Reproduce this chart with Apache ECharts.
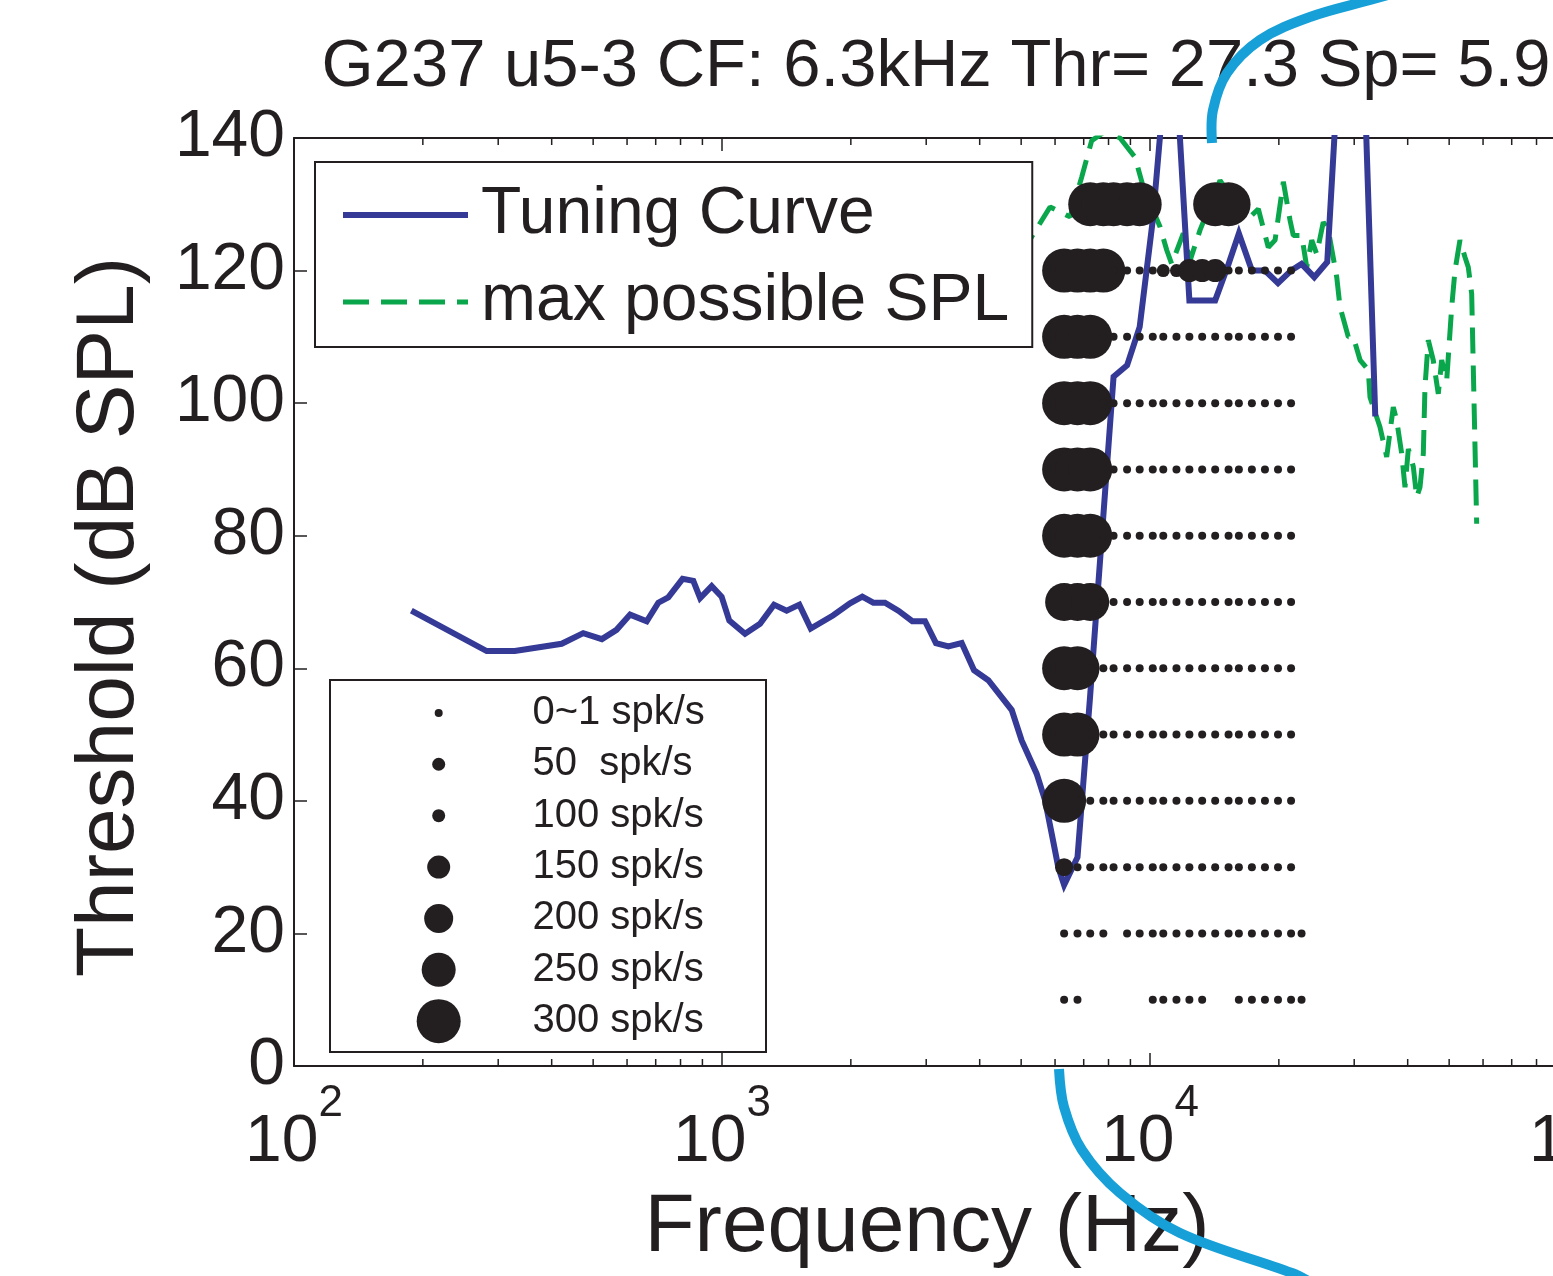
<!DOCTYPE html>
<html>
<head>
<meta charset="utf-8">
<script src="https://cdn.jsdelivr.net/npm/echarts@6/dist/echarts.min.js"></script>
<style>
  html, body { margin: 0; padding: 0; background: #ffffff; }
  #chart { width: 1553px; height: 1276px; }
</style>
</head>
<body>
<div id="chart"></div>
<script>
// ---- Tuning curve: threshold (dB SPL) at each frequency (Hz) ----
const tuningFreq = [188, 282, 328, 422, 474, 524, 567, 610, 667, 710, 749, 809, 857, 889, 946, 998,
  1040, 1132, 1227, 1323, 1416, 1516, 1612, 1820, 1991, 2127, 2257, 2403, 2582, 2784, 2981, 3162,
  3380, 3631, 3880, 4190, 4753, 5013, 5434, 5685, 5891, 6105, 6300, 6770, 7250, 7780, 8220, 8840,
  9460, 10150, 10740, 11530, 12360, 13240, 14200, 15260, 16130, 17300, 18560, 19910, 21360, 22600,
  24200, 25950, 27800, 29800, 31950, 33600];
const tuningLevel = [68.7, 62.6, 62.6, 63.7, 65.3, 64.4, 65.8, 68.1, 67.1, 69.9, 70.7, 73.5, 73.2, 70.6, 72.4, 70.8,
  67.2, 65.2, 66.7, 69.6, 68.7, 69.6, 66.0, 68.0, 69.8, 70.8, 69.9, 69.9, 68.7, 67.1, 67.1, 63.8,
  63.3, 63.8, 59.7, 58.2, 53.7, 49.1, 44.1, 40.1, 35.1, 30.0, 27.3, 31.5, 56, 83, 104, 105.7,
  111.5, 127.6, 146, 149, 115.5, 115.5, 115.5, 121, 125.6, 120, 120, 118.1, 120, 121,
  119, 121.3, 155, 165, 142, 98];

// ---- Maximum SPL the system can deliver at each frequency ----
const maxSplFreq = [4969, 5292, 5841, 6505, 6925, 7307, 7851, 8511, 9226, 9646, 10554, 10940, 11238,
  11962, 12404, 13088, 14574, 16826, 17909, 18898, 19598, 20490, 21240, 21620, 22620, 23240, 23870,
  24520, 25400, 26100, 27310, 27800, 29060, 29850, 30960, 32360, 32660, 34460, 35730, 37020, 37710,
  38730, 39430, 40140, 41230, 41990, 42740, 43510, 43900, 44690, 45900, 47160, 48030, 49340, 50690,
  51590, 52990, 54450, 55420, 56440, 57980];
const maxSplLevel = [122, 125.1, 129.6, 128.1, 134.1, 139.6, 141, 140, 137.1, 132.6, 126.6, 123.1, 121.0,
  125.6, 121.5, 126.1, 133.6, 127.6, 129.3, 123.5, 124.6, 133.4, 127.6, 125.3, 125.3, 120.5, 124.6,
  122.5, 127.3, 126.1, 119.0, 114.5, 110.0, 110, 106.5, 105, 100.9, 96.4, 91.9, 99.4, 97.4,
  92.4, 87.3, 93.1, 90.4, 85.8, 87.3, 92.4, 102.4, 109.5, 106.5, 101.4, 106.5, 103.4, 114.5,
  120.0, 124.6, 122, 120.5, 116.5, 81.8];

// ---- Response grid: stimulus frequencies, levels and firing rates (spk/s; null = not presented) ----
const dotFreqs = [6300, 6770, 7250, 7780, 8220, 8840, 9460, 10150, 10740, 11530, 12360, 13240,
  14200, 15260, 16130, 17300, 18560, 19910, 21360, 22600];
const dotLevels = [10, 20, 30, 40, 50, 60, 70, 80, 90, 100, 110, 120, 130];
const n = null;
const dotRates = [
  [0, 0, n, n, n, n, n, 0, 0, 0, 0, 0, n, n, 0, 0, 0, 0, 0, 0],               // 10 dB
  [0, 0, 0, 0, n, 0, 0, 0, 0, 0, 0, 0, 0, 0, 0, 0, 0, 0, 0, 0],               // 20 dB
  [125, 0, 0, 0, 0, 0, 0, 0, 0, 0, 0, 0, 0, 0, 0, 0, 0, 0, 0, n],             // 30 dB
  [300, 0, 0, 0, 0, 0, 0, 0, 0, 0, 0, 0, 0, 0, 0, 0, 0, 0, 0, n],             // 40 dB
  [300, 300, 0, 0, 0, 0, 0, 0, 0, 0, 0, 0, 0, 0, 0, 0, 0, 0, 0, n],           // 50 dB
  [300, 300, 0, 0, 0, 0, 0, 0, 0, 0, 0, 0, 0, 0, 0, 0, 0, 0, 0, n],           // 60 dB
  [270, 270, 270, 0, 0, 0, 0, 0, 0, 0, 0, 0, 0, 0, 0, 0, 0, 0, 0, n],         // 70 dB
  [300, 300, 300, 0, 0, 0, 0, 0, 0, 0, 0, 0, 0, 0, 0, 0, 0, 0, 0, n],         // 80 dB
  [300, 300, 300, 0, 0, 0, 0, 0, 0, 0, 0, 0, 0, 0, 0, 0, 0, 0, 0, n],         // 90 dB
  [300, 300, 300, 0, 0, 0, 0, 0, 0, 0, 0, 0, 0, 0, 0, 0, 0, 0, 0, n],         // 100 dB
  [300, 300, 300, 0, 0, 0, 0, 0, 0, 0, 0, 0, 0, 0, 0, 0, 0, 0, 0, n],         // 110 dB
  [300, 300, 300, 300, 0, 0, 0, 0, 50, 50, 150, 150, 150, 0, 0, 0, 0, 0, 0, n], // 120 dB
  [n, n, 300, 300, 300, 300, 300, n, n, n, n, n, 300, 300, n, n, n, n, n, n]  // 130 dB
];

// ---- Rate key ----
const legendRates = [0, 50, 100, 150, 200, 250, 300];
const legendSizes = [8, 13, 13, 23, 29, 34, 44];
const legendLabels = ['0~1 spk/s', '50  spk/s', '100 spk/s', '150 spk/s', '200 spk/s', '250 spk/s', '300 spk/s'];

// ---- Axes ----
const freqMin = 100, freqMax = 100000;
const levelMin = 0, levelMax = 140, levelStep = 20;
const minorTickFreqs = [200, 300, 400, 500, 600, 700, 800, 900,
  2000, 3000, 4000, 5000, 6000, 7000, 8000, 9000,
  20000, 30000, 40000, 50000, 60000, 70000, 80000, 90000];

const titleText = 'G237 u5-3 CF: 6.3kHz Thr= 27.3 Sp= 5.9';

// Highlight stroke around the CF region (drawn outside the axes box)
const highlightTop = [[1212, 143], [1213, 110], [1227, 73], [1260, 40], [1310, 17], [1370, 0], [1420, -14]];
const highlightBottom = [[1059, 1069], [1064, 1107], [1082, 1150], [1120, 1193], [1180, 1233], [1292, 1273], [1310, 1282]];

const FONT = '"Liberation Sans", Arial, Helvetica, sans-serif';
const INK = '#231f20';
const BLUE = '#343a96';
const GREEN = '#0aa64b';

function sizeFor(rate) {
  for (let i = 0; i < legendRates.length - 1; i++) {
    if (rate <= legendRates[i + 1]) {
      const t = (rate - legendRates[i]) / (legendRates[i + 1] - legendRates[i]);
      return legendSizes[i] + t * (legendSizes[i + 1] - legendSizes[i]);
    }
  }
  return legendSizes[legendSizes.length - 1];
}

const tuningData = tuningFreq.map((f, i) => [f, tuningLevel[i]]);
const maxSplData = maxSplFreq.map((f, i) => [f, maxSplLevel[i]]);
const dotData = [];
dotLevels.forEach((lvl, r) => {
  dotRates[r].forEach((rate, c) => {
    if (rate !== null) dotData.push([dotFreqs[c], lvl, rate]);
  });
});

const chart = echarts.init(document.getElementById('chart'));

const logAxisCommon = {
  type: 'log',
  logBase: 10,
  min: freqMin,
  max: freqMax,
  gridIndex: 0,
  splitLine: { show: false },
  axisLine: { lineStyle: { color: INK, width: 2 } },
  axisTick: { inside: true, length: 13, lineStyle: { color: INK, width: 1.5 } }
};

chart.setOption({
  backgroundColor: '#ffffff',
  animation: false,
  title: {
    text: titleText,
    left: 936,
    top: 34,
    textAlign: 'center',
    padding: 0,
    textStyle: { fontFamily: FONT, fontSize: 67, fontWeight: 'normal', color: INK }
  },
  grid: [
    { left: 294, top: 138, width: 1284, height: 928, containLabel: false, outerBoundsMode: 'none' },
    { left: 330, top: 680, width: 436, height: 372, show: true, backgroundColor: '#ffffff',
      borderColor: INK, borderWidth: 2, z: 6, containLabel: false, outerBoundsMode: 'none' }
  ],
  legend: {
    data: [
      { name: 'Tuning Curve', itemStyle: { opacity: 0 }, lineStyle: { width: 6, color: BLUE } },
      { name: 'max possible SPL', itemStyle: { opacity: 0 }, lineStyle: { width: 5, color: GREEN, type: [26, 12] } }
    ],
    orient: 'vertical',
    left: 315,
    top: 162,
    padding: [20, 23, 12, 25],
    itemGap: 21,
    itemWidth: 125,
    itemHeight: 14,
    backgroundColor: '#ffffff',
    borderColor: INK,
    borderWidth: 2,
    z: 8,
    textStyle: { fontFamily: FONT, fontSize: 66, lineHeight: 66, color: INK, padding: [0, 0, 0, 8] },
    selectedMode: false
  },
  xAxis: [
    Object.assign({}, logAxisCommon, {
      position: 'bottom',
      axisLabel: {
        show: true,
        showMinLabel: true,
        showMaxLabel: true,
        margin: 16,
        formatter: v => '{b|10}{s|' + Math.round(Math.log10(v)) + '}',
        rich: {
          b: { fontFamily: FONT, fontSize: 66, lineHeight: 122, color: INK },
          s: { fontFamily: FONT, fontSize: 44, lineHeight: 44, color: INK, verticalAlign: 'top' }
        }
      },
      name: 'Frequency (Hz)',
      nameLocation: 'middle',
      nameGap: 121,
      nameTextStyle: { fontFamily: FONT, fontSize: 82, color: INK, padding: [0, 18, 0, 0] }
    }),
    Object.assign({}, logAxisCommon, {
      position: 'top',
      axisLabel: { show: false }
    }),
    { type: 'value', gridIndex: 1, min: 0, max: 1, show: false }
  ],
  yAxis: [
    {
      type: 'value',
      gridIndex: 0,
      min: levelMin,
      max: levelMax,
      interval: levelStep,
      splitLine: { show: false },
      axisLine: { lineStyle: { color: INK, width: 2 } },
      axisTick: { inside: true, length: 13, lineStyle: { color: INK, width: 1.5 } },
      axisLabel: { fontFamily: FONT, fontSize: 66, color: INK, margin: 9 },
      name: 'Threshold (dB SPL)',
      nameLocation: 'middle',
      nameGap: 143,
      nameTextStyle: { fontFamily: FONT, fontSize: 82, color: INK, padding: [0, 30, 0, 0] }
    },
    { type: 'value', gridIndex: 1, min: -0.64, max: 6.6, inverse: true, show: false }
  ],
  series: [
    {
      name: 'max possible SPL',
      type: 'line',
      xAxisIndex: 0, yAxisIndex: 0,
      data: maxSplData,
      symbol: 'none',
      z: 2,
      lineStyle: { color: GREEN, width: 5, type: [26, 12] },
      itemStyle: { color: GREEN }
    },
    {
      name: 'Tuning Curve',
      type: 'line',
      xAxisIndex: 0, yAxisIndex: 0,
      data: tuningData,
      symbol: 'none',
      z: 3,
      lineStyle: { color: BLUE, width: 6, join: 'miter' },
      itemStyle: { color: BLUE }
    },
    {
      name: 'Responses',
      type: 'scatter',
      xAxisIndex: 0, yAxisIndex: 0,
      data: dotData,
      symbol: 'circle',
      symbolSize: v => sizeFor(v[2]),
      z: 4,
      itemStyle: { color: INK, opacity: 1 },
      silent: true
    },
    {
      name: 'minor ticks bottom',
      type: 'scatter',
      xAxisIndex: 0, yAxisIndex: 0,
      data: minorTickFreqs.map(f => [f, levelMin]),
      symbol: 'rect',
      symbolSize: [1.5, 7],
      symbolOffset: [0, -3.5],
      itemStyle: { color: INK, opacity: 1 },
      silent: true, z: 5
    },
    {
      name: 'minor ticks top',
      type: 'scatter',
      xAxisIndex: 0, yAxisIndex: 0,
      data: minorTickFreqs.map(f => [f, levelMax]),
      symbol: 'rect',
      symbolSize: [1.5, 7],
      symbolOffset: [0, 3.5],
      itemStyle: { color: INK, opacity: 1 },
      silent: true, z: 5
    },
    {
      name: 'rate key dots',
      type: 'scatter',
      xAxisIndex: 2, yAxisIndex: 1,
      data: legendRates.map((r, i) => [0.2493, i, r]),
      symbol: 'circle',
      symbolSize: v => sizeFor(v[2]),
      itemStyle: { color: INK, opacity: 1 },
      silent: true, z: 7
    },
    {
      name: 'rate key labels',
      type: 'scatter',
      xAxisIndex: 2, yAxisIndex: 1,
      data: legendLabels.map((t, i) => [0.4633, i]),
      symbol: 'circle',
      symbolSize: 1,
      itemStyle: { color: '#ffffff', opacity: 1 },
      label: {
        show: true,
        position: 'right',
        distance: 0,
        formatter: p => legendLabels[p.dataIndex],
        fontFamily: FONT,
        fontSize: 40,
        color: INK,
        opacity: 1
      },
      silent: true, z: 7
    }
  ],
  graphic: [
    { type: 'polyline', z: 100, silent: true,
      shape: { points: highlightTop, smooth: 0.35 },
      style: { stroke: '#17a0d8', lineWidth: 10, fill: null } },
    { type: 'polyline', z: 100, silent: true,
      shape: { points: highlightBottom, smooth: 0.35 },
      style: { stroke: '#17a0d8', lineWidth: 10, fill: null } }
  ]
});
</script>
</body>
</html>
